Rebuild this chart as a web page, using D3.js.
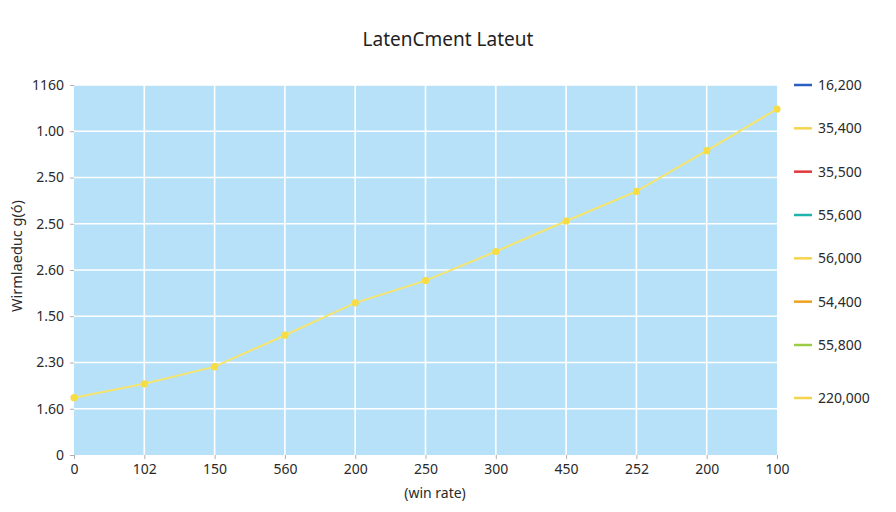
<!DOCTYPE html>
<html>
<head>
<meta charset="utf-8">
<script src="https://cdn.jsdelivr.net/npm/d3@7/dist/d3.min.js"></script>
<style>
  html, body { margin: 0; padding: 0; background: #ffffff; }
  svg { display: block; font-family: "Noto Sans", "Open Sans", sans-serif; }
</style>
</head>
<body>
<svg id="chart" width="896" height="512"></svg>
<script>
// ---- data ----
const categories = ["0", "102", "150", "560", "200", "250", "300", "450", "252", "200", "100"];
const seriesValues = [1.24, 1.54, 1.91, 2.59, 3.29, 3.77, 4.40, 5.06, 5.70, 6.58, 7.48];
const yTickLabels = ["0", "1.60", "2.30", "1.50", "2.60", "2.50", "2.50", "1.00", "1160"];
const legendLabels = ["16,200", "35,400", "35,500", "55,600", "56,000", "54,400", "55,800", "220,000"];
const legendColors = ["#2a5fbf", "#f4d44a", "#e0383a", "#1fb3ad", "#f4d44a", "#f0a020", "#9ccc45", "#f4d44a"];
const chartTitle = "LatenCment Lateut";
const xTitle = "(win rate)";
const yTitle = "Wirmlaeduc g(ó)";

// ---- layout ----
const svg = d3.select("#chart");
const pLeft = 74, pRight = 777, pTop = 85, pBottom = 455;

const x = d3.scalePoint().domain(d3.range(categories.length)).range([pLeft, pRight]).padding(0);
const y = d3.scaleLinear().domain([0, yTickLabels.length - 1]).range([pBottom, pTop]);

// plot background
svg.append("rect")
  .attr("x", pLeft).attr("y", pTop)
  .attr("width", pRight - pLeft).attr("height", pBottom - pTop)
  .attr("fill", "#b7e1f8");

// grid lines
const g = svg.append("g");
g.selectAll(".hg").data(d3.range(1, yTickLabels.length)).enter().append("line")
  .attr("x1", pLeft).attr("x2", pRight)
  .attr("y1", d => y(d)).attr("y2", d => y(d))
  .attr("stroke", "#ffffff").attr("stroke-width", 1.6);
g.selectAll(".vg").data(d3.range(1, categories.length - 1)).enter().append("line")
  .attr("y1", pTop).attr("y2", pBottom)
  .attr("x1", d => x(d)).attr("x2", d => x(d))
  .attr("stroke", "#ffffff").attr("stroke-width", 1.6);

// x axis
const xAxis = d3.axisBottom(x).tickFormat(i => categories[i]).tickSize(4).tickPadding(5);
const xg = svg.append("g").attr("transform", `translate(0,${pBottom})`).call(xAxis);
xg.select(".domain").remove();
xg.selectAll(".tick line").attr("stroke", "#b0b0b0");
xg.selectAll(".tick text").attr("font-size", 14).attr("fill", "#2a2a2a")
  .attr("font-family", "'Noto Sans', sans-serif");

// y axis
const yAxis = d3.axisLeft(y).tickValues(d3.range(yTickLabels.length))
  .tickFormat(i => yTickLabels[i]).tickSize(4).tickPadding(6);
const yg = svg.append("g").attr("transform", `translate(${pLeft},0)`).call(yAxis);
yg.select(".domain").remove();
yg.selectAll(".tick line").attr("stroke", "#b0b0b0");
yg.selectAll(".tick text").attr("font-size", 14).attr("fill", "#2a2a2a")
  .attr("font-family", "'Noto Sans', sans-serif");

// line
const line = d3.line().x((d, i) => x(i)).y(d => y(d));
svg.append("path").datum(seriesValues)
  .attr("d", line).attr("fill", "none")
  .attr("stroke", "#f5e46e").attr("stroke-width", 2);
svg.selectAll(".pt").data(seriesValues).enter().append("circle")
  .attr("cx", (d, i) => x(i)).attr("cy", d => y(d)).attr("r", 3.6)
  .attr("fill", "#f7dc44");

// title
svg.append("text").attr("x", 448).attr("y", 46).attr("text-anchor", "middle")
  .attr("font-size", 19).attr("fill", "#222").text(chartTitle);

// x title
svg.append("text").attr("x", 435).attr("y", 498).attr("text-anchor", "middle")
  .attr("font-size", 14).attr("fill", "#2a2a2a").text(xTitle);

// y title
svg.append("text").attr("transform", "translate(22,256) rotate(-90)")
  .attr("text-anchor", "middle").attr("font-size", 14.5).attr("fill", "#2a2a2a").text(yTitle);

// legend
const legendY = d3.scaleLinear().domain([0, 6]).range([85, 345]);
const lg = svg.selectAll(".leg").data(legendLabels).enter().append("g")
  .attr("transform", (d, i) => `translate(794,${i < 7 ? legendY(i) : 398})`);
lg.append("line").attr("x1", 0).attr("x2", 18).attr("y1", 0).attr("y2", 0)
  .attr("stroke", (d, i) => legendColors[i]).attr("stroke-width", 2.5);
lg.append("text").attr("x", 24).attr("y", 0).attr("dy", "0.35em")
  .attr("font-size", 14).attr("fill", "#2a2a2a").text(d => d);
</script>
</body>
</html>
